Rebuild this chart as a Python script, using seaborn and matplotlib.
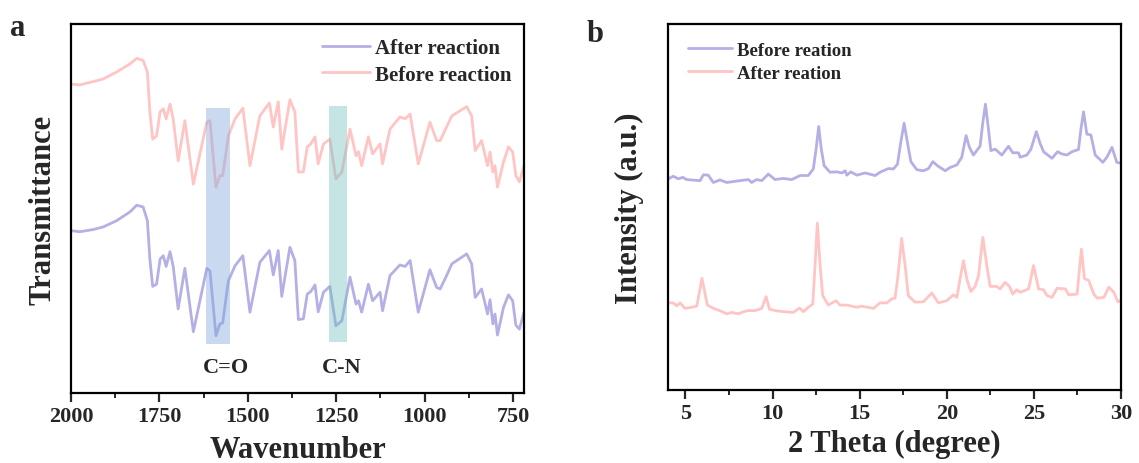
import numpy as np
import pandas as pd
import matplotlib
matplotlib.use("Agg")
import matplotlib.pyplot as plt
from matplotlib.ticker import MultipleLocator
import seaborn as sns

# ---------------- data: panel a (FTIR) ----------------
wavenumber = [2000, 1975, 1937, 1909, 1871, 1833, 1814, 1796, 1784, 1777, 1769, 1758, 1748, 1739,
              1731, 1720, 1711, 1697, 1678, 1654, 1616, 1607, 1590, 1579, 1571, 1555, 1536, 1514,
              1494, 1466, 1439, 1428, 1414, 1404, 1381, 1367, 1357, 1343, 1332, 1322, 1310, 1301,
              1286, 1268, 1251, 1234, 1211, 1194, 1187, 1178, 1159, 1147, 1126, 1119, 1098, 1070,
              1055, 1041, 1018, 985, 966, 956, 938, 923, 881, 867, 857, 839, 822, 815, 807, 801,
              794, 777, 763, 751, 742, 732, 719]
before_reaction_ir = [83.7, 83.5, 84.4, 85.1, 87.0, 89.2, 90.7, 90.1, 87.0, 76.2, 68.8, 69.7, 76.2, 77.0,
                      74.3, 78.3, 74.3, 62.9, 73.8, 56.6, 73.4, 73.8, 55.8, 58.9, 58.9, 69.7, 74.3, 77.2,
                      61.6, 75.1, 78.6, 72.1, 78.9, 66.1, 79.5, 76.2, 59.9, 59.9, 66.7, 67.5, 69.4, 62.1,
                      67.5, 68.8, 58.0, 59.9, 71.5, 64.3, 65.4, 61.6, 69.4, 64.8, 67.5, 62.1, 71.5, 74.8,
                      74.3, 75.6, 62.1, 73.4, 68.4, 68.4, 72.1, 75.1, 77.6, 75.1, 65.7, 68.4, 61.6, 65.3,
                      59.9, 61.6, 55.8, 62.6, 66.7, 65.3, 58.9, 57.2, 61.6]
after_reaction_ir = [44.0, 43.7, 44.3, 45.0, 46.7, 49.1, 50.9, 50.4, 46.7, 36.3, 28.9, 29.5, 36.3, 37.2,
                     34.3, 38.3, 34.3, 22.8, 33.8, 16.6, 33.8, 33.1, 15.5, 18.7, 19.0, 30.4, 34.5, 37.2,
                     21.9, 35.4, 38.6, 32.0, 38.6, 26.2, 39.5, 35.9, 19.9, 20.1, 26.8, 27.5, 29.3, 22.0,
                     27.3, 28.9, 18.2, 19.6, 31.4, 24.1, 25.0, 21.9, 29.5, 25.0, 27.3, 22.3, 31.8, 34.7,
                     34.3, 35.9, 21.9, 33.4, 28.6, 28.2, 31.8, 35.0, 37.7, 35.0, 25.9, 28.2, 21.4, 25.3,
                     18.7, 21.4, 15.7, 23.2, 26.6, 25.0, 18.4, 17.3, 21.9]
ir_ticks = [2000, 1750, 1500, 1250, 1000, 750]
band_co_x = [1618, 1550]
band_co_y = [13.4, 77.2]
band_cn_x = [1270, 1220]
band_cn_y = [13.8, 77.8]
band_labels = ["C=O", "C-N"]
band_label_x = [1562, 1234]

# ---------------- data: panel b (XRD) ----------------
theta_before = [4.02, 4.30, 4.59, 4.84, 5.07, 5.84, 6.03, 6.31, 6.60, 6.98, 7.37, 8.13, 8.61, 8.80, 9.09,
                9.38, 9.76, 10.14, 10.62, 11.10, 11.58, 12.05, 12.34, 12.50, 12.65, 12.80, 12.96, 13.30,
                13.69, 13.98, 14.17, 14.26, 14.49, 14.84, 15.31, 15.89, 16.17, 16.65, 16.94, 17.17,
                17.36, 17.55, 17.74, 17.94, 18.28, 18.66, 18.95, 19.20, 19.46, 19.91, 20.19, 20.58,
                20.86, 21.11, 21.30, 21.53, 21.91, 22.07, 22.22, 22.37, 22.53, 22.78, 23.16, 23.54,
                23.79, 24.12, 24.21, 24.60, 24.83, 25.14, 25.37, 25.56, 26.04, 26.36, 26.61, 26.90,
                27.18, 27.56, 27.70, 27.85, 28.04, 28.27, 28.52, 28.96, 29.19, 29.48, 29.76, 29.95]
intensity_before = [57.7, 58.4, 57.7, 58.1, 57.5, 57.2, 58.8, 58.7, 56.7, 57.4, 56.7, 57.2, 57.5, 56.7, 57.5,
                    57.2, 59.0, 57.5, 57.8, 57.5, 58.6, 58.6, 60.4, 65.8, 72.0, 65.8, 61.3, 59.5,
                    59.6, 59.3, 59.9, 58.7, 59.6, 58.7, 59.3, 58.6, 59.5, 60.5, 60.4, 61.7,
                    67.7, 72.9, 67.7, 62.4, 60.2, 59.9, 60.5, 62.4, 61.3, 59.9, 60.8, 61.5,
                    63.6, 69.5, 66.3, 64.2, 66.6, 73.1, 78.1, 72.2, 65.4, 65.8, 64.2, 66.6,
                    64.8, 64.8, 63.6, 64.2, 65.8, 70.6, 67.2, 65.1, 63.3, 65.1, 64.5, 64.2,
                    65.1, 65.7, 71.3, 76.0, 69.9, 69.7, 64.2, 62.2, 63.6, 66.3, 62.2, 62.0]
theta_after = [4.02, 4.30, 4.50, 4.69, 4.98, 5.36, 5.65, 5.80, 5.95, 6.11, 6.26, 6.70, 6.98, 7.37, 7.66,
               8.04, 8.33, 8.61, 9.00, 9.38, 9.63, 9.82, 10.14, 10.62, 11.20, 11.54, 11.77, 12.05,
               12.31, 12.44, 12.57, 12.73, 12.88, 13.20, 13.64, 13.87, 14.26, 14.84, 15.12, 15.79,
               16.17, 16.56, 16.84, 17.03, 17.20, 17.41, 17.61, 17.79, 18.18, 18.66, 19.14, 19.52,
               20.00, 20.38, 20.58, 20.76, 20.96, 21.15, 21.38, 21.63, 21.82, 22.07, 22.30, 22.49,
               22.87, 23.06, 23.35, 23.60, 23.79, 24.02, 24.21, 24.69, 24.83, 24.98, 25.14, 25.27,
               25.56, 25.75, 26.04, 26.33, 26.81, 27.00, 27.48, 27.58, 27.73, 27.90, 28.15, 28.44,
               28.63, 29.02, 29.30, 29.59, 29.82, 29.97]
intensity_after = [23.8, 23.8, 23.0, 23.8, 22.3, 22.6, 22.9, 26.7, 30.5, 26.7, 23.2, 22.1, 21.7, 20.8, 21.2,
                   20.8, 21.4, 21.7, 21.7, 22.3, 25.5, 22.1, 21.7, 21.4, 21.2, 22.4, 21.4, 22.6,
                   23.5, 34.0, 45.6, 34.0, 25.8, 23.2, 24.4, 23.2, 23.2, 22.6, 22.9, 22.3,
                   23.8, 23.8, 24.9, 25.1, 31.2, 41.4, 34.0, 25.8, 24.0, 24.1, 26.5, 23.8,
                   24.4, 26.0, 25.3, 30.3, 35.3, 30.3, 26.9, 28.3, 31.2, 41.7, 34.0, 28.3,
                   28.3, 27.6, 29.4, 28.3, 26.2, 27.4, 26.7, 27.6, 30.5, 34.0, 30.5, 27.6,
                   27.4, 25.8, 25.3, 27.8, 27.6, 26.0, 26.2, 31.2, 38.5, 30.5, 29.9, 26.2,
                   25.1, 25.3, 28.1, 26.7, 24.1, 24.4]
xrd_ticks = [5, 10, 15, 20, 25, 30]

# ---------------- style ----------------
sns.set_style("ticks")
plt.rcParams["font.family"] = ["Liberation Serif", "DejaVu Serif"]
plt.rcParams["font.weight"] = "bold"
plt.rcParams["axes.labelweight"] = "bold"

PURPLE = "#b4b0e6"
PINK = "#ffc4c4"
LW = 2.0

fig = plt.figure(figsize=(11.39, 4.64), dpi=100)
ax1 = fig.add_axes([71 / 1139, 70 / 464, 453 / 1139, 369 / 464])
ax2 = fig.add_axes([668 / 1139, 73 / 464, 453 / 1139, 366 / 464])

df_ir = pd.DataFrame({"wn": wavenumber, "after": after_reaction_ir, "before": before_reaction_ir})
sns.lineplot(data=df_ir, x="wn", y="after", ax=ax1, color=PURPLE, lw=LW, label="After reaction")
sns.lineplot(data=df_ir, x="wn", y="before", ax=ax1, color=PINK, lw=LW, label="Before reaction")

ax1.fill_between(band_co_x, band_co_y[0], band_co_y[1], color="#7fa9dd", alpha=0.42, lw=0, zorder=3)
ax1.fill_between(band_cn_x, band_cn_y[0], band_cn_y[1], color="#6fbfbf", alpha=0.40, lw=0, zorder=3)
for lab, xx in zip(band_labels, band_label_x):
    ax1.text(xx, 7.0, lab, ha="center", va="center", fontsize=16, fontweight="bold")

ax1.set_xlim(2000, 719)
ax1.set_ylim(0, 100)
ax1.set_xticks(ir_ticks)
ax1.xaxis.set_minor_locator(MultipleLocator(125))

df_x = pd.DataFrame({"t": theta_before, "i": intensity_before})
df_y = pd.DataFrame({"t": theta_after, "i": intensity_after})
sns.lineplot(data=df_x, x="t", y="i", ax=ax2, color=PURPLE, lw=LW, label="Before reation")
sns.lineplot(data=df_y, x="t", y="i", ax=ax2, color=PINK, lw=LW, label="After reation")
ax2.set_xlim(4, 30)
ax2.set_ylim(0, 100)
ax2.set_xticks(xrd_ticks)
ax2.xaxis.set_minor_locator(MultipleLocator(2.5))

for ax, xl, yl, xlp, ylp in [(ax1, "Wavenumber", "Transmittance", 6, 10),
                             (ax2, "2 Theta (degree)", "Intensity (a.u.)", 4, 17)]:
    ax.set_yticks([])
    for s in ax.spines.values():
        s.set_visible(True)
        s.set_linewidth(1.6)
        s.set_color("black")
    ax.tick_params(axis="x", which="major", direction="out", length=6.5, width=1.6, labelsize=16, pad=3)
    ax.tick_params(axis="x", which="minor", direction="out", length=3.5, width=1.4)
    for t in ax.get_xticklabels():
        t.set_fontweight("bold")
    ax.set_xlabel(xl, fontsize=22, fontweight="bold", labelpad=xlp)
    ax.set_ylabel(yl, fontsize=22, fontweight="bold", labelpad=ylp)

leg1 = ax1.legend(loc="upper left", bbox_to_anchor=(0.554, 0.962), frameon=False, borderpad=0,
                  borderaxespad=0, handlelength=2.3, handletextpad=0.25, labelspacing=0.32,
                  prop={"size": 15, "weight": "bold"})
leg2 = ax2.legend(loc="upper left", bbox_to_anchor=(0.044, 0.952), frameon=False, borderpad=0,
                  borderaxespad=0, handlelength=2.35, handletextpad=0.27, labelspacing=0.33,
                  prop={"size": 13.5, "weight": "bold"})

fig.text(18 / 1139, 1 - 29 / 464, "a", fontsize=22, fontweight="bold", ha="center", va="center")
fig.text(595 / 1139, 1 - 34 / 464, "b", fontsize=22, fontweight="bold", ha="center", va="center")

fig.savefig("out.png", dpi=100)
